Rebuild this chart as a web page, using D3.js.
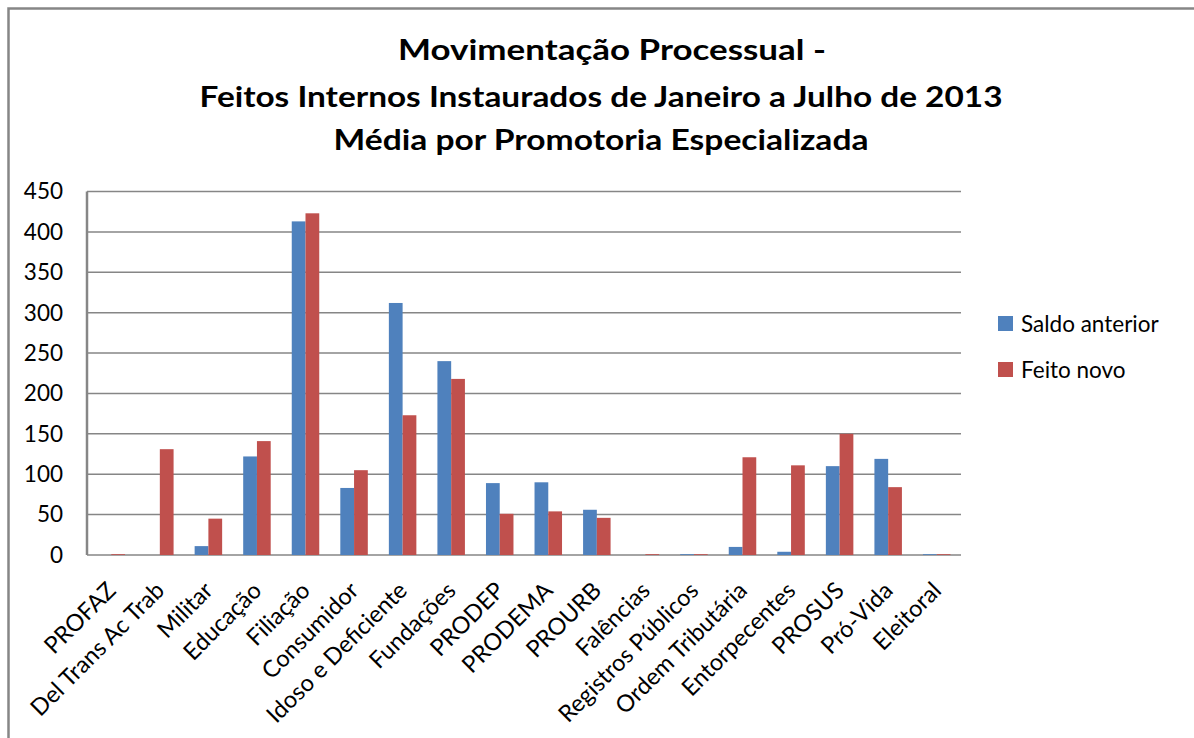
<!DOCTYPE html>
<html lang="pt">
<head>
<meta charset="UTF-8">
<title>Movimentação Processual</title>
<script src="https://d3js.org/d3.v7.min.js"></script>
<style>
    body { margin: 0; background: #fff; }
    text { font-family: Lato, "Open Sans", sans-serif; fill: #000; }
</style>
</head>
<body>
<div id="chart"></div>
<script>
// Data
const categories = ["PROFAZ", "Del Trans Ac Trab", "Militar", "Educação", "Filiação", "Consumidor",
    "Idoso e Deficiente", "Fundações", "PRODEP", "PRODEMA", "PROURB", "Falências",
    "Registros Públicos", "Ordem Tributária", "Entorpecentes", "PROSUS", "Pró-Vida", "Eleitoral"];
const saldoAnterior = [0, 0, 11, 122, 413, 83, 312, 240, 89, 90, 56, 0, 1, 10, 4, 110, 119, 1];
const feitoNovo = [1, 131, 45, 141, 423, 105, 173, 218, 51, 54, 46, 1, 1, 121, 111, 150, 84, 1];
const seriesNames = ["Saldo anterior", "Feito novo"];
const colors = ["#4f81bd", "#c0504d"];
const yTicks = [0, 50, 100, 150, 200, 250, 300, 350, 400, 450];
const titleLines = ["Movimentação Processual -",
    "Feitos Internos Instaurados de Janeiro a Julho de 2013",
    "Média por Promotoria Especializada"];

const width = 1194, height = 738;
const plot = { left: 87, right: 961, top: 191.5, bottom: 555 };

const svg = d3.select("#chart").append("svg")
    .attr("width", width)
    .attr("height", height);

// outer frame
svg.append("rect")
    .attr("x", 8.5).attr("y", 8.5)
    .attr("width", 1200).attr("height", 740)
    .attr("fill", "none")
    .attr("stroke", "#868686")
    .attr("stroke-width", 2.5);

// title
const titleY = [50, 97, 140];
const titleLen = [428, 803, 535];
svg.append("g").selectAll("text")
    .data(titleLines)
    .join("text")
    .attr("x", (d, i) => i === 0 ? 612 : 601)
    .attr("y", (d, i) => titleY[i] + 10)
    .attr("text-anchor", "middle")
    .attr("font-size", 29)
    .attr("font-weight", "bold")
    .attr("textLength", (d, i) => titleLen[i])
    .attr("lengthAdjust", "spacingAndGlyphs")
    .text(d => d);

const x0 = d3.scaleBand()
    .domain(categories)
    .range([plot.left, plot.right]);

const x1 = d3.scaleBand()
    .domain(seriesNames)
    .range([0, 27.5]);

const y = d3.scaleLinear()
    .domain([0, 450])
    .range([plot.bottom, plot.top]);

// gridlines
svg.append("g").selectAll("line")
    .data(yTicks)
    .join("line")
    .attr("x1", plot.left).attr("x2", plot.right)
    .attr("y1", d => y(d)).attr("y2", d => y(d))
    .attr("stroke", "#868686")
    .attr("stroke-width", 1.5);

// y axis labels
svg.append("g").selectAll("text")
    .data(yTicks)
    .join("text")
    .attr("x", 63)
    .attr("y", d => y(d))
    .attr("dy", "0.35em")
    .attr("text-anchor", "end")
    .attr("font-size", 22.5)
    .text(d => d);

// bars
const rows = categories.map((c, i) => ({ cat: c, values: [saldoAnterior[i], feitoNovo[i]] }));
const groupOffset = (x0.bandwidth() - 27.5) / 2;

svg.append("g").selectAll("g")
    .data(rows)
    .join("g")
    .attr("transform", d => `translate(${x0(d.cat) + groupOffset},0)`)
    .selectAll("rect")
    .data(d => d.values.map((v, j) => ({ key: seriesNames[j], value: v, idx: j })))
    .join("rect")
    .attr("x", d => x1(d.key))
    .attr("width", x1.bandwidth())
    .attr("y", d => y(d.value))
    .attr("height", d => y(0) - y(d.value))
    .attr("fill", d => colors[d.idx]);

// y axis line
svg.append("line")
    .attr("x1", plot.left).attr("x2", plot.left)
    .attr("y1", plot.top).attr("y2", plot.bottom)
    .attr("stroke", "#868686")
    .attr("stroke-width", 2.5);

// x labels, rotated
svg.append("g").selectAll("text")
    .data(categories)
    .join("text")
    .attr("transform", d => `translate(${x0(d) + x0.bandwidth() / 2 + 6},${plot.bottom + 37}) rotate(-45)`)
    .attr("text-anchor", "end")
    .attr("font-size", 23.5)
    .text(d => d);

// legend
const legend = svg.append("g").selectAll("g")
    .data(seriesNames)
    .join("g")
    .attr("transform", (d, i) => `translate(998,${316 + i * 46})`);

legend.append("rect")
    .attr("width", 15).attr("height", 15)
    .attr("fill", (d, i) => colors[i]);

legend.append("text")
    .attr("x", 23)
    .attr("y", 8)
    .attr("dy", "0.35em")
    .attr("font-size", 22.5)
    .text(d => d);
</script>
</body>
</html>
